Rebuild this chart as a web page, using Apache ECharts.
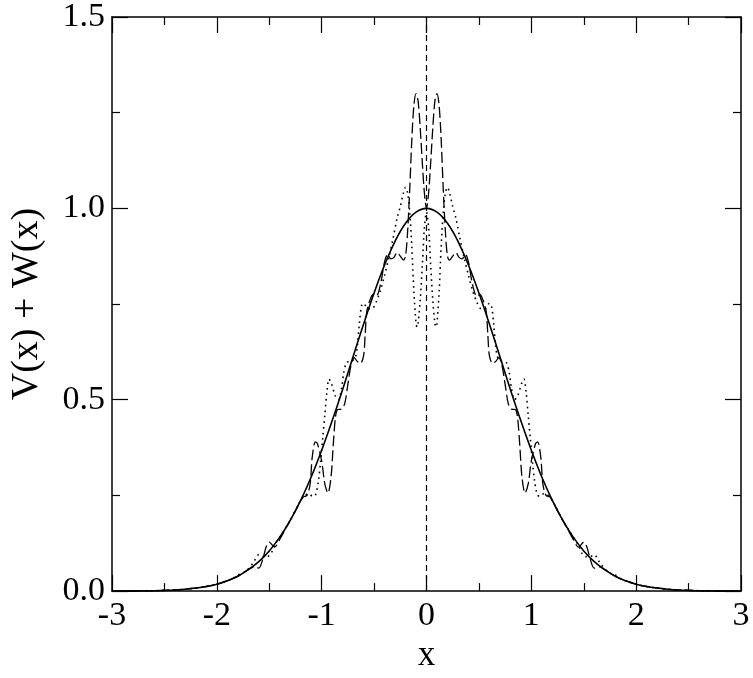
<!DOCTYPE html>
<html>
<head>
<meta charset="utf-8">
<script src="https://cdn.jsdelivr.net/npm/echarts@6/dist/echarts.min.js"></script>
<style>html,body{margin:0;padding:0;background:#fff}#c{width:753px;height:678px}</style>
</head>
<body>
<div id="c"></div>
<script>
var xTicks = [-3, -2, -1, 0, 1, 2, 3];
var yTicks = [0.0, 0.5, 1.0, 1.5];
var xTitle = 'x';
var yTitle = 'V(x) + W(x)';

var solidCurve = [
[-3.0,0.000],[-2.9,0.000],[-2.8,0.000],[-2.7,0.001],[-2.6,0.001],[-2.5,0.002],[-2.4,0.003],[-2.3,0.005],[-2.2,0.008],[-2.1,0.012],
[-2.0,0.018],[-1.9,0.027],[-1.8,0.039],[-1.7,0.056],[-1.6,0.077],[-1.5,0.105],[-1.4,0.141],[-1.3,0.185],[-1.2,0.237],[-1.1,0.298],
[-1.0,0.368],[-0.9,0.445],[-0.8,0.527],[-0.7,0.613],[-0.6,0.698],[-0.5,0.779],[-0.4,0.852],[-0.3,0.914],[-0.2,0.961],[-0.1,0.990],
[0.0,1.000],
[0.1,0.990],[0.2,0.961],[0.3,0.914],[0.4,0.852],[0.5,0.779],[0.6,0.698],[0.7,0.613],[0.8,0.527],[0.9,0.445],[1.0,0.368],
[1.1,0.298],[1.2,0.237],[1.3,0.185],[1.4,0.141],[1.5,0.105],[1.6,0.077],[1.7,0.056],[1.8,0.039],[1.9,0.027],[2.0,0.018],
[2.1,0.012],[2.2,0.008],[2.3,0.005],[2.4,0.003],[2.5,0.002],[2.6,0.001],[2.7,0.001],[2.8,0.000],[2.9,0.000],[3.0,0.000]
];

var dashedCurve = [
[-3.00,0.000],[-2.80,0.000],[-2.60,0.001],[-2.50,0.002],[-2.40,0.003],[-2.30,0.005],[-2.20,0.008],[-2.10,0.012],[-2.00,0.018],
[-1.90,0.027],[-1.80,0.039],[-1.70,0.056],[-1.64,0.064],[-1.60,0.060],[-1.56,0.085],[-1.53,0.115],[-1.50,0.128],[-1.45,0.115],
[-1.40,0.135],[-1.35,0.160],[-1.30,0.185],[-1.25,0.210],[-1.18,0.245],[-1.14,0.250],[-1.11,0.280],[-1.09,0.350],[-1.06,0.390],
[-1.04,0.385],[-1.00,0.340],[-0.97,0.280],[-0.94,0.256],[-0.91,0.300],[-0.89,0.380],[-0.87,0.450],[-0.85,0.474],[-0.81,0.476],
[-0.78,0.490],[-0.75,0.540],[-0.72,0.590],[-0.69,0.610],[-0.66,0.600],[-0.63,0.595],[-0.60,0.615],[-0.585,0.670],[-0.57,0.730],
[-0.54,0.760],[-0.51,0.775],[-0.48,0.770],[-0.44,0.800],[-0.40,0.860],[-0.37,0.880],[-0.34,0.868],[-0.31,0.872],[-0.28,0.885],
[-0.25,0.875],[-0.22,0.865],[-0.20,0.875],[-0.18,0.940],[-0.16,1.050],[-0.14,1.180],[-0.12,1.270],[-0.10,1.300],[-0.08,1.280],
[-0.06,1.210],[-0.04,1.120],[-0.02,1.040],[0.00,1.000],
[0.02,1.040],[0.04,1.120],[0.06,1.210],[0.08,1.280],[0.10,1.300],[0.12,1.270],[0.14,1.180],[0.16,1.050],[0.18,0.940],
[0.20,0.875],[0.22,0.865],[0.25,0.875],[0.28,0.885],[0.31,0.872],[0.34,0.868],[0.37,0.880],[0.40,0.860],[0.44,0.800],
[0.48,0.770],[0.51,0.775],[0.54,0.760],[0.57,0.730],[0.585,0.670],[0.60,0.615],[0.63,0.595],[0.66,0.600],[0.69,0.610],
[0.72,0.590],[0.75,0.540],[0.78,0.490],[0.81,0.476],[0.85,0.474],[0.87,0.450],[0.89,0.380],[0.91,0.300],[0.94,0.256],
[0.97,0.280],[1.00,0.340],[1.04,0.385],[1.06,0.390],[1.09,0.350],[1.11,0.280],[1.14,0.250],[1.18,0.245],[1.25,0.210],
[1.30,0.185],[1.35,0.160],[1.40,0.135],[1.45,0.115],[1.50,0.128],[1.53,0.115],[1.56,0.085],[1.60,0.060],[1.64,0.064],
[1.70,0.056],[1.80,0.039],[1.90,0.027],[2.00,0.018],[2.10,0.012],[2.20,0.008],[2.30,0.005],[2.40,0.003],[2.50,0.002],
[2.60,0.001],[2.80,0.000],[3.00,0.000]
];

var dottedCurve = [
[-3.00,0.000],[-2.80,0.000],[-2.60,0.001],[-2.50,0.002],[-2.40,0.003],[-2.30,0.005],[-2.20,0.008],[-2.10,0.012],[-2.00,0.018],
[-1.90,0.027],[-1.85,0.032],[-1.80,0.042],[-1.76,0.046],[-1.70,0.058],[-1.64,0.080],[-1.60,0.095],[-1.56,0.090],[-1.52,0.090],
[-1.48,0.100],[-1.45,0.120],[-1.40,0.141],[-1.30,0.185],[-1.20,0.237],[-1.16,0.250],[-1.12,0.255],[-1.09,0.248],[-1.06,0.250],
[-1.03,0.290],[-1.01,0.340],[-0.99,0.400],[-0.97,0.460],[-0.95,0.520],[-0.93,0.554],[-0.91,0.545],[-0.87,0.510],[-0.84,0.500],
[-0.81,0.530],[-0.79,0.570],[-0.76,0.598],[-0.72,0.600],[-0.68,0.610],[-0.66,0.640],[-0.64,0.700],[-0.62,0.745],[-0.60,0.752],
[-0.56,0.738],[-0.52,0.738],[-0.48,0.755],[-0.44,0.785],[-0.40,0.825],[-0.36,0.870],[-0.32,0.920],[-0.28,0.975],[-0.25,1.005],
[-0.22,1.040],[-0.20,1.055],[-0.18,1.040],[-0.16,0.990],[-0.14,0.900],[-0.12,0.780],[-0.10,0.700],[-0.09,0.690],[-0.08,0.700],
[-0.06,0.760],[-0.04,0.850],[-0.02,0.950],[0.00,0.990],
[0.02,0.950],[0.04,0.850],[0.06,0.760],[0.08,0.700],[0.09,0.690],[0.10,0.700],[0.12,0.780],[0.14,0.900],[0.16,0.990],
[0.18,1.040],[0.20,1.055],[0.22,1.040],[0.25,1.005],[0.28,0.975],[0.32,0.920],[0.36,0.870],[0.40,0.825],[0.44,0.785],
[0.48,0.755],[0.52,0.738],[0.56,0.738],[0.60,0.752],[0.62,0.745],[0.64,0.700],[0.66,0.640],[0.68,0.610],[0.72,0.600],
[0.76,0.598],[0.79,0.570],[0.81,0.530],[0.84,0.500],[0.87,0.510],[0.91,0.545],[0.93,0.554],[0.95,0.520],[0.97,0.460],
[0.99,0.400],[1.01,0.340],[1.03,0.290],[1.06,0.250],[1.09,0.248],[1.12,0.255],[1.16,0.250],[1.20,0.237],[1.30,0.185],
[1.40,0.141],[1.45,0.120],[1.48,0.100],[1.52,0.090],[1.56,0.090],[1.60,0.095],[1.64,0.080],[1.70,0.058],[1.76,0.046],
[1.80,0.042],[1.85,0.032],[1.90,0.027],[2.00,0.018],[2.10,0.012],[2.20,0.008],[2.30,0.005],[2.40,0.003],[2.50,0.002],
[2.60,0.001],[2.80,0.000],[3.00,0.000]
];

var zeroLine = [[0, 0], [0, 1.5]];

var FONT = 'Liberation Serif';
var chart = echarts.init(document.getElementById('c'), null, {renderer: 'canvas'});

function axisCommon(showLabels) {
  return {
    axisLine: {show: true, onZero: false, lineStyle: {color: '#000', width: 1.5}},
    axisTick: {show: true, inside: true, length: 16, lineStyle: {color: '#000', width: 1.2}},
    minorTick: {show: true, splitNumber: 2, length: 8, lineStyle: {color: '#000', width: 1.2}},
    splitLine: {show: false},
    minorSplitLine: {show: false},
    axisLabel: {show: showLabels, color: '#000', fontFamily: FONT, fontSize: 34}
  };
}

var xb = axisCommon(true);
var xt = axisCommon(false);
var yl = axisCommon(true);
var yr = axisCommon(false);

var option = {
  animation: false,
  backgroundColor: '#fff',
  grid: {left: 103, right: 12, top: 17, bottom: 67, containLabel: false},
  xAxis: [
    Object.assign({type: 'value', min: xTicks[0], max: xTicks[xTicks.length-1], interval: 1, position: 'bottom',
      name: xTitle, nameLocation: 'middle', nameGap: 32,
      nameTextStyle: {fontFamily: FONT, fontSize: 35, color: '#000'}}, xb,
      {axisLabel: Object.assign({}, xb.axisLabel, {margin: 8, formatter: function(v){return String(v);}})}),
    Object.assign({type: 'value', min: xTicks[0], max: xTicks[xTicks.length-1], interval: 1, position: 'top'}, xt)
  ],
  yAxis: [
    Object.assign({type: 'value', min: yTicks[0], max: yTicks[yTicks.length-1], interval: 0.5, position: 'left',
      name: yTitle, nameLocation: 'middle', nameGap: 66,
      nameTextStyle: {fontFamily: FONT, fontSize: 38, color: '#000'}}, yl,
      {axisLabel: Object.assign({}, yl.axisLabel, {margin: 7, formatter: function(v){return v.toFixed(1);}})}),
    Object.assign({type: 'value', min: yTicks[0], max: yTicks[yTicks.length-1], interval: 0.5, position: 'right'}, yr)
  ],
  series: [
    {type: 'line', data: zeroLine, showSymbol: false, silent: true,
      lineStyle: {color: '#000', width: 1.2, type: [6, 4]}},
    {type: 'line', data: solidCurve, showSymbol: false, smooth: 0.4,
      lineStyle: {color: '#000', width: 1.6, type: 'solid'}},
    {type: 'line', data: dashedCurve, showSymbol: false, smooth: 0.3,
      lineStyle: {color: '#000', width: 1.3, type: [11, 4]}},
    {type: 'line', data: dottedCurve, showSymbol: false, smooth: 0.3,
      lineStyle: {color: '#000', width: 1.6, type: [1.6, 4]}}
  ]
};
chart.setOption(option);
</script>
</body>
</html>
